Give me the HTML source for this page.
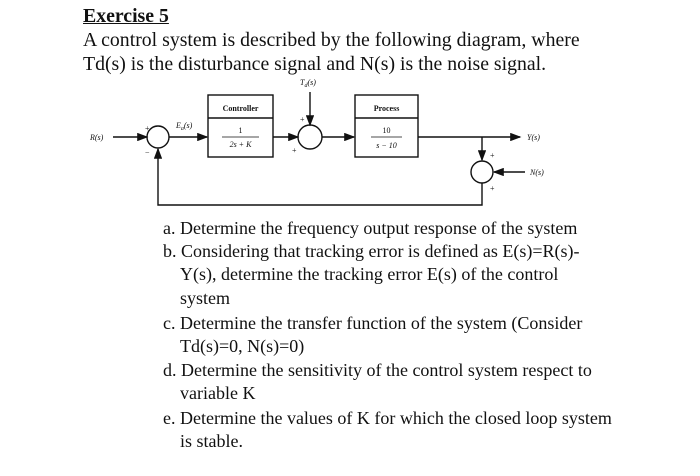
<!DOCTYPE html>
<html><head><style>
body{margin:0;width:700px;height:476px;background:#fff;overflow:hidden;position:relative;font-family:"Liberation Serif",serif;color:#111}
.t{position:absolute;white-space:nowrap;font-size:19.8px;line-height:24px}
.i{font-size:18px}
svg{position:absolute;left:0;top:0}
svg text{font-family:"Liberation Serif",serif;fill:#111}
</style></head><body>
<div class="t" style="left:83px;top:4px;font-weight:bold;text-decoration:underline">Exercise 5</div>
<div class="t" style="left:83px;top:28px">A control system is described by the following diagram, where</div>
<div class="t" style="left:83px;top:52px">Td(s) is the disturbance signal and N(s) is the noise signal.</div>

<svg width="700" height="476" viewBox="0 0 700 476">
<defs><marker id="a" markerWidth="8" markerHeight="6" refX="7" refY="3" orient="auto"><path d="M0,0L8,3L0,6z" fill="#111"/></marker></defs>
<g stroke="#111" stroke-width="1.4" fill="none">
<line x1="113" y1="137" x2="147" y2="137" marker-end="url(#a)"/>
<circle cx="158" cy="137" r="11"/>
<line x1="169" y1="137" x2="207" y2="137" marker-end="url(#a)"/>
<rect x="208" y="95" width="65" height="62"/>
<line x1="208" y1="118" x2="273" y2="118"/>
<line x1="273" y1="137" x2="298" y2="137" marker-end="url(#a)"/>
<line x1="310" y1="92" x2="310" y2="125" marker-end="url(#a)"/>
<circle cx="310" cy="137" r="12"/>
<line x1="322" y1="137" x2="354" y2="137" marker-end="url(#a)"/>
<rect x="355" y="95" width="63" height="62"/>
<line x1="355" y1="118" x2="418" y2="118"/>
<line x1="418" y1="137" x2="520" y2="137" marker-end="url(#a)"/>
<line x1="482" y1="137" x2="482" y2="160" marker-end="url(#a)"/>
<circle cx="482" cy="172" r="11"/>
<line x1="525" y1="172" x2="494" y2="172" marker-end="url(#a)"/>
<polyline points="482,183 482,205 158,205 158,149" marker-end="url(#a)"/>
</g>
<g font-size="8">
<text x="90" y="140" font-style="italic">R(s)</text>
<text x="145" y="131">+</text>
<text x="145" y="155">−</text>
<text x="176" y="128" font-style="italic">E<tspan font-size="6" dy="2">a</tspan><tspan dy="-2">(s)</tspan></text>
<text x="240.5" y="111" text-anchor="middle" font-weight="bold" font-family="Liberation Sans">Controller</text>
<text x="240.5" y="133" text-anchor="middle">1</text>
<line x1="222" y1="137" x2="259" y2="137" stroke="#111" stroke-width="0.8"/>
<text x="240.5" y="147" text-anchor="middle" font-style="italic">2s + K</text>
<text x="300" y="85" font-style="italic">T<tspan font-size="6" dy="2">d</tspan><tspan dy="-2">(s)</tspan></text>
<text x="300" y="122">+</text>
<text x="292" y="153">+</text>
<text x="386.5" y="111" text-anchor="middle" font-weight="bold" font-family="Liberation Sans">Process</text>
<text x="386.5" y="133" text-anchor="middle">10</text>
<line x1="371" y1="137" x2="402" y2="137" stroke="#111" stroke-width="0.8"/>
<text x="386.5" y="148" text-anchor="middle" font-style="italic">s − 10</text>
<text x="527" y="140" font-style="italic">Y(s)</text>
<text x="490" y="158">+</text>
<text x="490" y="191">+</text>
<text x="530" y="175" font-style="italic">N(s)</text>
</g>
</svg>

<div class="t i" style="left:163px;top:216px">a. Determine the frequency output response of the system</div>
<div class="t i" style="left:163px;top:239px">b. Considering that tracking error is defined as E(s)=R(s)-</div>
<div class="t i" style="left:180px;top:262px">Y(s), determine the tracking error E(s) of the control</div>
<div class="t i" style="left:180px;top:286px">system</div>
<div class="t i" style="left:163px;top:311px">c. Determine the transfer function of the system (Consider</div>
<div class="t i" style="left:180px;top:334px">Td(s)=0, N(s)=0)</div>
<div class="t i" style="left:163px;top:358px">d. Determine the sensitivity of the control system respect to</div>
<div class="t i" style="left:180px;top:381px">variable K</div>
<div class="t i" style="left:163px;top:406px">e. Determine the values of K for which the closed loop system</div>
<div class="t i" style="left:180px;top:429px">is stable.</div>
</body></html>
